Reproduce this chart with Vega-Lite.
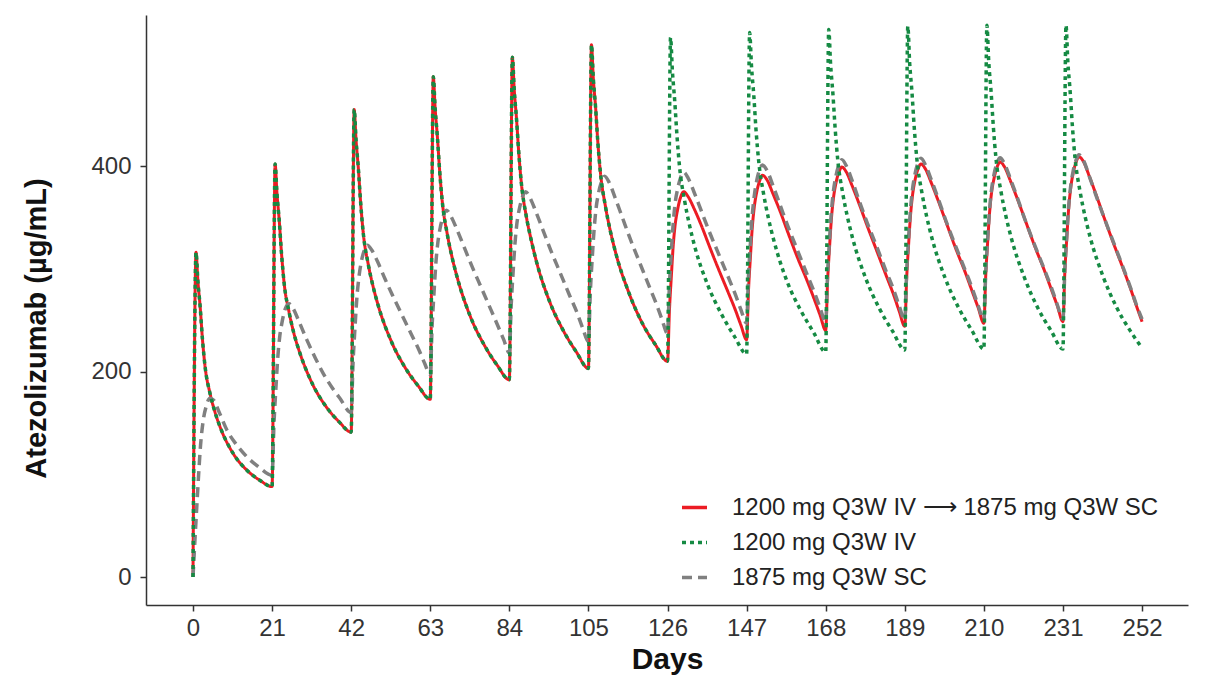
{
  "$schema": "https://vega.github.io/schema/vega-lite/v6.json",
  "width": 1042,
  "height": 590,
  "autosize": {"type": "none"},
  "padding": {"left": 146, "top": 15, "right": 18, "bottom": 70},
  "background": "white",
  "datasets": {
    "ivsc": [
      [0,0],[0.8,316],[1.3,288],[1.9,263],[2.5,232],[3.2,205],[4.5,179],[5.8,161],[7.2,146],[10.7,120],[14.3,104],[17.8,94],[21,88],
      [21.8,402],[22.3,373],[22.9,347],[23.5,315],[24.2,286],[25.5,258],[26.8,237],[28.2,220],[31.7,188],[35.3,166],[38.8,151],[42,141],
      [42.8,455],[43.3,425],[43.9,398],[44.5,365],[45.2,335],[46.5,305],[47.8,283],[49.2,264],[52.7,229],[56.3,204],[59.8,186],[63,173],
      [63.8,487],[64.3,456],[64.9,428],[65.5,395],[66.2,365],[67.5,334],[68.8,311],[70.2,291],[73.7,253],[77.3,226],[80.8,206],[84,192],
      [84.8,506],[85.3,474],[85.9,446],[86.5,413],[87.2,383],[88.5,351],[89.8,328],[91.2,307],[94.7,268],[98.3,240],[101.8,219],[105,203],
      [105.8,518],[106.3,485],[106.9,457],[107.5,423],[108.2,393],[109.5,361],[110.8,337],[112.2,316],[115.7,277],[119.3,247],[122.8,226],[126,210],
      [126.5,259],[127,292],[127.5,322],[128,342],[128.7,358],[129.5,370],[130.3,375],[131.5,370],[133,359],[135,342],[137,323],[139.5,300],[142,278],[144,260],[145.5,245],[147,231],
      [147.5,279],[148,311],[148.5,340],[149,359],[149.7,375],[150.5,386],[151.2,391],[152.5,386],[154,373],[156,355],[158,335],[160.5,311],[163,289],[165,270],[166.5,255],[168,240],
      [168.5,288],[169,320],[169.5,348],[170,367],[170.7,383],[171.5,394],[172.3,399],[173.5,394],[175,381],[177,362],[179,342],[181.5,318],[184,294],[186,275],[187.5,259],[189,244],
      [189.5,291],[190,323],[190.5,351],[191,370],[191.7,386],[192.5,397],[193.3,402],[194.5,397],[196,384],[198,365],[200,345],[202.5,320],[205,297],[207,277],[208.5,262],[210,247],
      [210.5,294],[211,326],[211.5,354],[212,373],[212.7,388],[213.5,399],[214.3,404],[215.5,399],[217,386],[219,367],[221,347],[223.5,322],[226,299],[228,279],[229.5,264],[231,248.5],
      [231.5,297],[232,329],[232.5,358],[233,377],[233.7,393],[234.5,404],[235.2,409],[236.5,404],[238,390],[240,370],[242,349],[244.5,324],[247,300],[249,280],[250.5,264],[252,248.5]
    ],
    "iv": [
      [0,0],[0.8,316],[1.3,288],[1.9,263],[2.5,232],[3.2,205],[4.5,179],[5.8,161],[7.2,146],[10.7,120],[14.3,104],[17.8,94],[21,88],
      [21.8,402],[22.3,373],[22.9,347],[23.5,315],[24.2,286],[25.5,258],[26.8,237],[28.2,220],[31.7,188],[35.3,166],[38.8,151],[42,141],
      [42.8,455],[43.3,425],[43.9,398],[44.5,365],[45.2,335],[46.5,305],[47.8,283],[49.2,264],[52.7,229],[56.3,204],[59.8,186],[63,173],
      [63.8,487],[64.3,456],[64.9,428],[65.5,395],[66.2,365],[67.5,334],[68.8,311],[70.2,291],[73.7,253],[77.3,226],[80.8,206],[84,192],
      [84.8,506],[85.3,474],[85.9,446],[86.5,413],[87.2,383],[88.5,351],[89.8,328],[91.2,307],[94.7,268],[98.3,240],[101.8,219],[105,203],
      [105.8,518],[106.3,485],[106.9,457],[107.5,423],[108.2,393],[109.5,361],[110.8,337],[112.2,316],[115.7,277],[119.3,247],[122.8,226],[126,210],
      [126.8,525],[127.3,492],[127.9,464],[128.5,430],[129.2,399],[130.5,367],[131.8,343],[133.2,322],[136.7,284],[140.3,256],[143.8,234],[147,217],
      [147.8,530],[148.3,497],[148.9,469],[149.5,435],[150.2,405],[151.5,373],[152.8,349],[154.2,328],[157.7,288],[161.3,260],[164.8,238],[168,219],
      [168.8,533],[169.3,499],[169.9,471],[170.5,437],[171.2,406],[172.5,374],[173.8,350],[175.2,329],[178.7,290],[182.3,261],[185.8,239],[189,221],
      [189.8,536],[190.3,500],[190.9,472],[191.5,438],[192.2,407],[193.5,375],[194.8,351],[196.2,330],[199.7,291],[203.3,262],[206.8,240],[210,222],
      [210.8,537],[211.3,501],[211.9,473],[212.5,439],[213.2,408],[214.5,376],[215.8,352],[217.2,331],[220.7,292],[224.3,262],[227.8,240],[231,222],
      [231.8,537],[232.3,501],[232.9,473],[233.5,439],[234.2,408],[235.5,376],[236.8,352],[238.2,331],[241.7,292],[245.3,262],[248.8,240],[252,223]
    ],
    "sc": [
      [0,0],[0.5,35],[1,68],[1.5,100],[2,128],[2.7,152],[3.5,166],[4.5,174],[5.5,172],[7,160],[9,143],[11.5,129],[14.3,117],[17.5,107],[21,99],
      [21.5,149],[22,183],[22.5,213],[23,233],[23.7,249],[24.5,261],[25.5,266],[26.5,262],[28,250],[30.2,231],[32.5,213],[34.6,198],[37,184],[39,174],[42,160],
      [42.5,209],[43,242],[43.5,271],[44,290],[44.7,307],[45.5,318],[46.3,323],[47.5,318],[49,307],[51,290],[53,274],[55.5,255],[58,236],[60,221],[61.5,208],[63,197],
      [63.5,245],[64,277],[64.5,306],[65,325],[65.7,341],[66.5,352],[67.3,357],[68.5,351],[70,339],[72,321],[74,303],[76.5,282],[79,261],[81,244],[82.5,231],[84,218],
      [84.5,265],[85,297],[85.5,325],[86,344],[86.7,359],[87.5,370],[88.3,375],[89.5,369],[91,356],[93,337],[95,318],[97.5,296],[100,274],[102,257],[103.5,242],[105,229],
      [105.5,277],[106,310],[106.5,338],[107,358],[107.7,374],[108.5,385],[109.3,390],[110.5,384],[112,370],[114,350],[116,330],[118.5,307],[121,284],[123,266],[124.5,251],[126,237],
      [126.5,284],[127,316],[127.5,344],[128,363],[128.7,378],[129.5,389],[130.3,394],[131.5,388],[133,375],[135,356],[137,337],[139.5,315],[142,293],[144,275],[145.5,260],[147,247],
      [147.5,293],[148,324],[148.5,352],[149,370],[149.7,386],[150.5,397],[151.2,401],[152.5,395],[154,381],[156,361],[158,341],[160.5,318],[163,295],[165,277],[166.5,262],[168,248],
      [168.5,295],[169,327],[169.5,355],[170,374],[170.7,390],[171.5,401],[172.3,406],[173.5,400],[175,386],[177,365],[179,345],[181.5,322],[184,298],[186,280],[187.5,264],[189,250],
      [189.5,297],[190,329],[190.5,357],[191,376],[191.7,392],[192.5,403],[193.3,407.5],[194.5,401],[196,387],[198,367],[200,346],[202.5,322],[205,299],[207,280],[208.5,264],[210,250],
      [210.5,297],[211,329],[211.5,357],[212,376],[212.7,392],[213.5,403],[214.3,408],[215.5,402],[217,388],[219,368],[221,347],[223.5,323],[226,300],[228,281],[229.5,265],[231,251],
      [231.5,299],[232,331],[232.5,360],[233,379],[233.7,395],[234.5,406],[235.2,411],[236.5,405],[238,390],[240,369],[242,349],[244.5,325],[247,301],[249,281],[250.5,265],[252,251]
    ]
  },
  "layer": [
    {
      "data": {"name": "ivsc"},
      "mark": {"type": "line", "interpolate": "monotone", "strokeWidth": 3, "clip": true},
      "encoding": {
        "x": {"field": "0", "type": "quantitative"},
        "y": {"field": "1", "type": "quantitative"},
        "color": {"datum": "1200 mg Q3W IV \u27f6 1875 mg Q3W SC"},
        "strokeDash": {"datum": "1200 mg Q3W IV \u27f6 1875 mg Q3W SC"}
      }
    },
    {
      "data": {"name": "sc"},
      "mark": {"type": "line", "interpolate": "monotone", "strokeWidth": 3.5, "clip": true},
      "encoding": {
        "x": {"field": "0", "type": "quantitative"},
        "y": {"field": "1", "type": "quantitative"},
        "color": {"datum": "1875 mg Q3W SC"},
        "strokeDash": {"datum": "1875 mg Q3W SC"}
      }
    },
    {
      "data": {"name": "iv"},
      "mark": {"type": "line", "interpolate": "monotone", "strokeWidth": 3.5, "clip": true},
      "encoding": {
        "x": {"field": "0", "type": "quantitative"},
        "y": {"field": "1", "type": "quantitative"},
        "color": {"datum": "1200 mg Q3W IV"},
        "strokeDash": {"datum": "1200 mg Q3W IV"}
      }
    }
  ],
  "resolve": {"scale": {"color": "shared", "strokeDash": "shared"}},
  "encoding": {
    "x": {
      "field": "0", "type": "quantitative",
      "scale": {"domain": [-12.48, 264.2], "nice": false, "zero": false},
      "axis": {"title": "Days", "values": [0,21,42,63,84,105,126,147,168,189,210,231,252], "titleFontSize": 30, "titleBaseline": "alphabetic", "titleY": 63, "labelPadding": 5}
    },
    "y": {
      "field": "1", "type": "quantitative",
      "scale": {"domain": [-27.25, 547], "nice": false, "zero": false},
      "axis": {"title": "Atezolizumab (\u00b5g/mL)", "values": [0,200,400], "titleFontSize": 29, "titleAngle": -90, "titleAlign": "center", "titleBaseline": "middle", "titleX": -110, "titleY": 313, "labelPadding": 9}
    },
    "color": {
      "type": "nominal",
      "scale": {"domain": ["1200 mg Q3W IV \u27f6 1875 mg Q3W SC", "1200 mg Q3W IV", "1875 mg Q3W SC"], "range": ["#EC1C24", "#158A43", "#808080"]},
      "legend": {"title": null}
    },
    "strokeDash": {
      "type": "nominal",
      "scale": {"domain": ["1200 mg Q3W IV \u27f6 1875 mg Q3W SC", "1200 mg Q3W IV", "1875 mg Q3W SC"], "range": [[1,0],[4,4],[10,6]]},
      "legend": {"title": null}
    }
  },
  "config": {
    "font": "Liberation Sans",
    "view": {"stroke": null},
    "axis": {
      "grid": false,
      "domainColor": "#333333",
      "domainWidth": 1.5,
      "tickColor": "#333333",
      "tickWidth": 1.5,
      "tickSize": 6,
      "labelColor": "#333333",
      "labelFontSize": 24,
      "labelFont": "Liberation Sans",
      "titleFont": "Liberation Sans",
      "titleColor": "#111111",
      "titleFontWeight": "bold"
    },
    "legend": {
      "orient": "none",
      "legendX": 534,
      "legendY": 478,
      "padding": 0,
      "labelFont": "Liberation Sans",
      "labelFontSize": 24,
      "labelColor": "#222222",
      "symbolType": "stroke",
      "symbolSize": 625,
      "symbolStrokeWidth": 3.5,
      "labelOffset": 23,
      "rowPadding": 8,
      "labelLimit": 600
    }
  }
}
